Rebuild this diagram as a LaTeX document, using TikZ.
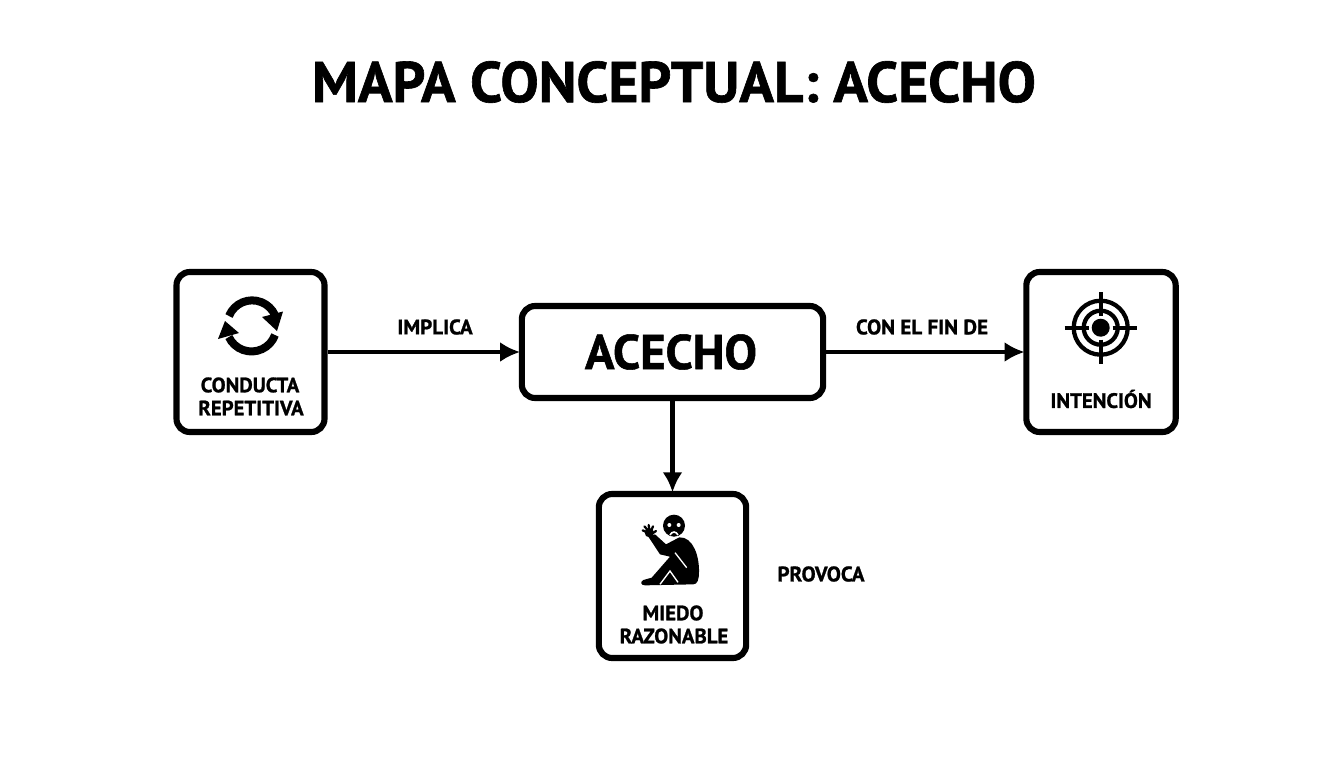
\documentclass[tikz,border=0pt]{standalone}
\usepackage{fontspec}
\setmainfont[BoldFeatures={FakeBold=1.1}]{PT Sans}
\usetikzlibrary{arrows.meta}
\tikzset{>={Latex[width=15pt,length=15pt]}}
\tikzset{
  concept/.style={draw=black, line width=4.6pt, rounded corners=10pt, fill=white, inner sep=0pt},
  boxlabel/.style={font=\bfseries\fontsize{15.6}{15.6}\selectfont, inner sep=0pt},
  linklabel/.style={font=\bfseries\fontsize{15.8}{15.8}\selectfont, inner sep=0pt},
  link/.style={->, line width=3.5pt, shorten >=-1pt},
  icon/.style={line width=6pt}
}

\begin{document}
\begin{tikzpicture}[x=0.75pt, y=-0.75pt]
\useasboundingbox (0,0) rectangle (1344,768);

\node[font=\bfseries\fontsize{43}{43}\selectfont, inner sep=0pt] (title) at (674,82) {MAPA CONCEPTUAL: ACECHO};

% concept boxes
\node[concept, minimum width=111pt, minimum height=120pt] (conducta) at (250.5,352) {};
\node[concept, minimum width=226pt, minimum height=69pt] (acecho) at (672.5,352) {};
\node[concept, minimum width=112pt, minimum height=120pt] (intencion) at (1101,352) {};
\node[concept, minimum width=110.5pt, minimum height=123pt] (miedo) at (672.5,576) {};

\node[font=\bfseries\fontsize{36.5}{36.5}\selectfont, inner sep=0pt] (acechotxt) at (671,352) {ACECHO};
\node[boxlabel] (conductatxt) at (250,385) {CONDUCTA};
\node[boxlabel] (repetitivatxt) at (251,408) {REPETITIVA};
\node[boxlabel] (intenciontxt) at (1101,399) {INTENCIÓN};
\node[boxlabel] (miedotxt) at (673,613) {MIEDO};
\node[boxlabel] (razonabletxt) at (674,636) {RAZONABLE};

% connectors
\draw[link] (conducta) -- (acecho);
\draw[link] (acecho) -- (intencion);
\draw[link] (acecho) -- (miedo);

\node[linklabel] (implica) at (435,327) {IMPLICA};
\node[linklabel] (confin) at (922,327) {CON EL FIN DE};
\node[linklabel] (provoca) at (821,574) {PROVOCA};

% cycle icon
\draw[icon] (229,316) arc (202:335:25);
\fill (283,311.5) -- (262,317) -- (277,331) -- cycle;
\draw[icon] (275,335) arc (20:155:25);
\fill (218,339) -- (225,321) -- (239,333) -- cycle;

% target icon
\draw[line width=3.2pt] (1100.7,327.7) circle (27);
\draw[line width=3.2pt] (1100.7,327.7) circle (17);
\fill (1100.7,327.7) circle (9);
\draw[line width=3.2pt] (1064.5,327.7) -- (1089,327.7);
\draw[line width=3.2pt] (1112.5,327.7) -- (1137,327.7);
\draw[line width=3.2pt] (1100.7,292) -- (1100.7,316);
\draw[line width=3.2pt] (1100.7,339.5) -- (1100.7,363.5);

% seated figure
\begin{scope}[shift={(590,485)}, x=0.25pt, y=-0.25pt]
\fill (252,122) circle (33);
\fill[white] (238,120) circle (6);
\fill[white] (266,120) circle (6);
\draw[white, line width=1.2pt] (240,150) .. controls (246,138) and (258,138) .. (264,150);
\fill (175,155) -- (195,148) -- (228,178) -- (268,157)
  .. controls (310,155) and (328,215) .. (327,260)
  .. controls (327,285) and (322,298) .. (310,298)
  -- (165,301) .. controls (152,301) and (150,290) .. (160,285)
  -- (185,278) -- (240,215) -- (210,208) -- cycle;
\fill (178,143) circle (14);
\draw[line width=1.7pt, line cap=round] (172,142) -- (158,136);
\draw[line width=1.7pt, line cap=round] (174,136) -- (163,124);
\draw[line width=1.7pt, line cap=round] (178,134) -- (176,120);
\draw[line width=1.7pt, line cap=round] (184,136) -- (189,124);
\draw[line width=1.7pt, line cap=round] (186,146) -- (198,138);
\draw[white, line width=1pt] (255,203) -- (290,248);
\draw[white, line width=1pt] (210,298) -- (240,258) -- (264,292);
\end{scope}
\end{tikzpicture}
\end{document}
